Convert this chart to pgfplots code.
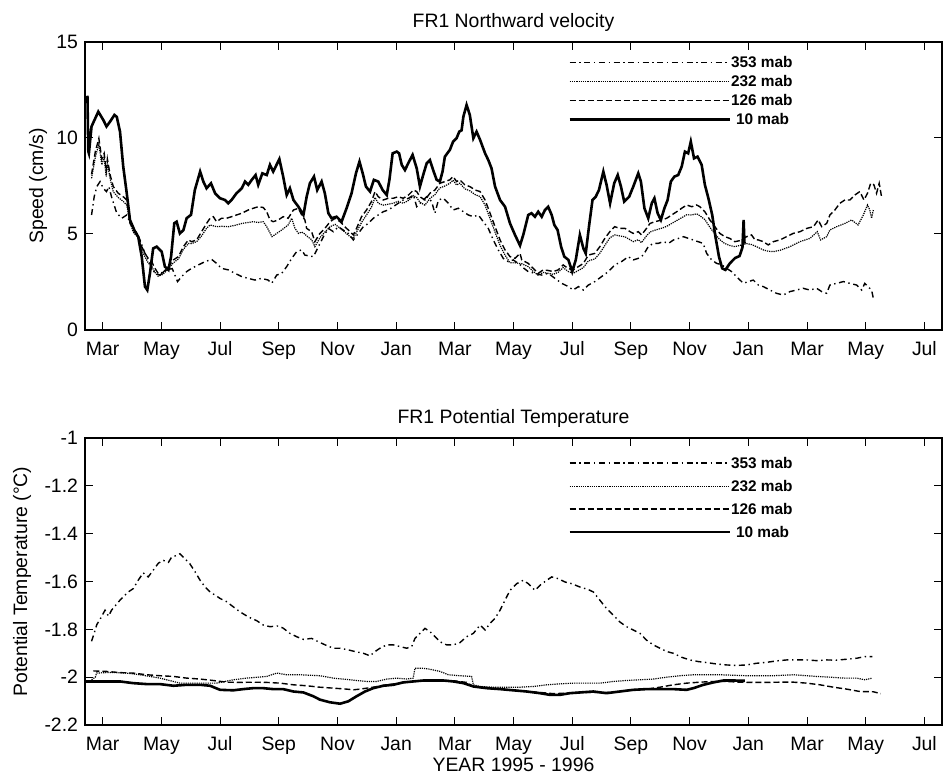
\documentclass[border=0pt]{standalone}
\usepackage{fontspec}
\setmainfont{Liberation Sans}
\usepackage{pgfplots}
\pgfplotsset{compat=1.18}
\newcommand{\fs}{\fontsize{9.7}{11}\selectfont}
\newcommand{\lfs}{\fontsize{7.7}{8}\selectfont\bfseries}
\pgfplotsset{
  myaxis/.style={
    scale only axis, width=428.5pt,
    xmin=-0.603, xmax=28.6,
    xtick={0,2,4,6,8,10,12,14,16,18,20,22,24,26,28},
    xticklabels={Mar,May,Jul,Sep,Nov,Jan,Mar,May,Jul,Sep,Nov,Jan,Mar,May,Jul},
    tick label style={font=\fs},
    xticklabel style={yshift=-2pt, text height=7pt, text depth=2pt},
    label style={font=\fs},
    title style={font=\fs, yshift=-4.5pt},
    axis line style={line width=0.8pt},
    major tick style={line width=0.5pt, black},
    major tick length=4pt,
    legend cell align=left,
    legend image code/.code={\draw[##1] (0pt,0pt) -- (80pt,0pt);},
  },
  s353/.style={black, line width=0.7pt, dash pattern=on 3pt off 1.8pt on 0.7pt off 1.8pt},
  s232/.style={black, line width=0.6pt, dash pattern=on 0.6pt off 0.5pt},
  s126/.style={black, line width=0.7pt, dash pattern=on 3pt off 1.5pt},
  s10/.style={black, line width=1.3pt},
}
\begin{document}
\begin{tikzpicture}
\path[use as bounding box] (0,0) rectangle (471.5pt,387pt);
% ---------------- top axis ----------------
\begin{axis}[myaxis,
  at={(42.5pt,222pt)}, anchor=south west, height=144pt,
  ymin=0, ymax=15, ytick={0,5,10,15}, yticklabels={0,5,10,15},
  title={FR1 Northward velocity},
  ylabel={Speed (cm/s)},
  ylabel style={at={(axis description cs:-0.0548,0.5)}, anchor=center},
  legend style={draw=none, fill=none, at={(axis description cs:0.5636,0.9497)}, anchor=north west,
    font=\lfs, row sep=4pt, inner sep=0pt, nodes={inner sep=0pt, text height=5.5pt, text depth=0pt}},
]
\addplot[s353] coordinates {
(-0.38,5.99)(-0.29,6.94)(-0.20,7.47)(-0.09,7.73)(0.02,7.38)(0.13,7.21)(0.21,7.47)(0.30,6.94)(0.48,6.08)(0.65,5.82)(0.82,5.99)(0.93,5.6)(1.10,5.21)(1.27,4.69)(1.44,3.99)(1.61,3.47)(1.78,2.95)(1.95,2.86)(2.18,3.13)(2.37,3.2)(2.55,2.52)(2.69,2.78)(2.86,3.04)(3.03,3.21)(3.26,3.39)(3.49,3.56)(3.71,3.68)(3.88,3.47)(4.05,3.21)(4.28,3.13)(4.51,2.95)(4.74,2.78)(4.96,2.69)(5.19,2.60)(5.41,2.69)(5.64,2.6)(5.76,2.43)(5.93,2.86)(6.10,2.95)(6.27,3.30)(6.44,3.73)(6.61,4.08)(6.78,4.17)(6.89,3.9)(7.18,3.82)(7.35,4.34)(7.52,4.86)(7.69,5.29)(7.86,5.12)(8.03,5.38)(8.20,5.2)(8.37,5.03)(8.54,4.69)(8.71,5.03)(8.88,5.38)(9.05,5.55)(9.22,5.82)(9.39,5.99)(9.56,6.16)(9.73,6.25)(9.90,6.42)(10.07,6.6)(10.24,6.77)(10.42,6.86)(10.59,7.03)(10.70,6.42)(10.87,6.69)(11.04,6.94)(11.21,6.69)(11.32,6.08)(11.44,6.77)(11.61,6.86)(11.78,6.6)(11.94,6.25)(12.12,6.34)(12.29,6.16)(12.46,5.99)(12.63,5.90)(12.80,5.99)(12.97,5.64)(13.14,5.29)(13.31,4.69)(13.48,4.17)(13.65,3.73)(13.82,3.56)(13.99,3.65)(14.22,3.4)(14.28,3.30)(14.50,3.04)(14.73,2.95)(14.96,2.86)(15.18,2.95)(15.41,2.69)(15.64,2.43)(15.87,2.26)(16.03,2.08)(16.21,2.26)(16.38,2.08)(16.55,2.34)(16.77,2.52)(17.00,2.78)(17.23,3.04)(17.45,3.39)(17.68,3.56)(17.91,3.82)(18.08,3.65)(18.25,3.73)(18.42,3.90)(18.59,4.34)(18.76,4.51)(18.93,4.51)(19.11,4.6)(19.28,4.51)(19.45,4.69)(19.62,4.77)(19.79,4.86)(19.96,4.77)(20.12,4.69)(20.29,4.6)(20.46,4.51)(20.58,3.99)(20.75,3.65)(20.92,3.47)(21.09,3.4)(21.26,3.21)(21.43,3.04)(21.60,2.78)(21.83,2.43)(22.00,2.52)(22.17,2.6)(22.34,2.34)(22.51,2.26)(22.74,2.08)(22.96,1.91)(23.19,1.82)(23.42,2.0)(23.64,2.08)(23.87,2.17)(24.10,2.08)(24.33,2.17)(24.50,2.0)(24.67,1.91)(24.78,2.34)(25.01,2.43)(25.24,2.52)(25.46,2.43)(25.69,2.34)(25.86,2.08)(25.97,2.43)(26.08,2.26)(26.20,2.08)(26.26,1.65)
};
\addlegendentry{353 mab}
\addplot[s232] coordinates {
(-0.38,7.9)(-0.25,9.0)(-0.13,9.7)(-0.03,8.6)(0.05,9.0)(0.12,8.0)(0.16,8.7)(0.25,7.9)(0.36,7.2)(0.53,6.9)(0.70,6.7)(0.82,6.5)(0.93,5.6)(1.04,5.1)(1.21,4.8)(1.33,4.2)(1.44,3.8)(1.55,3.5)(1.67,3.3)(1.78,3.0)(1.89,2.8)(2.06,2.9)(2.24,3.2)(2.41,3.5)(2.58,3.7)(2.75,4.2)(2.92,4.5)(3.03,4.5)(3.20,4.6)(3.37,4.9)(3.54,5.3)(3.66,5.47)(3.88,5.38)(4.05,5.4)(4.28,5.38)(4.51,5.45)(4.74,5.55)(4.96,5.6)(5.13,5.64)(5.30,5.6)(5.47,5.64)(5.59,5.38)(5.77,4.86)(5.93,5.03)(6.10,5.21)(6.32,5.47)(6.44,5.82)(6.55,5.3)(6.67,5.03)(6.78,5.1)(6.89,5.0)(6.95,4.9)(7.12,4.7)(7.23,4.34)(7.40,4.8)(7.57,5.1)(7.75,5.38)(7.92,5.5)(8.09,5.3)(8.25,5.1)(8.43,4.86)(8.54,4.77)(8.65,5.1)(8.82,5.6)(8.99,5.99)(9.16,6.4)(9.28,6.9)(9.39,6.6)(9.56,6.5)(9.73,6.55)(9.90,6.6)(10.07,6.7)(10.24,6.6)(10.42,6.75)(10.59,7.0)(10.70,6.9)(10.81,6.65)(10.98,6.5)(11.15,6.85)(11.32,7.05)(11.49,7.4)(11.66,7.5)(11.83,7.64)(11.94,7.8)(12.06,7.55)(12.17,7.65)(12.34,7.35)(12.51,7.25)(12.69,7.05)(12.86,6.95)(13.03,6.5)(13.20,5.8)(13.37,5.1)(13.54,4.4)(13.71,3.9)(13.88,3.5)(14.05,3.5)(14.28,3.45)(14.50,3.3)(14.67,3.05)(14.84,2.85)(15.01,3.0)(15.18,2.95)(15.35,2.9)(15.52,3.0)(15.69,3.25)(15.86,3.05)(16.03,2.95)(16.21,3.1)(16.38,3.25)(16.55,3.6)(16.77,3.7)(16.94,4.0)(17.11,4.4)(17.28,4.8)(17.45,4.95)(17.62,4.9)(17.80,4.85)(17.97,4.7)(18.08,4.6)(18.25,4.7)(18.36,4.55)(18.53,4.9)(18.65,5.1)(18.82,5.2)(19.05,5.3)(19.22,5.4)(19.39,5.55)(19.56,5.7)(19.73,5.85)(19.90,6.0)(20.07,5.99)(20.24,6.05)(20.35,5.95)(20.52,5.75)(20.69,5.35)(20.86,5.0)(21.03,4.7)(21.20,4.5)(21.37,4.4)(21.54,4.34)(21.70,4.4)(21.94,4.5)(22.11,4.45)(22.28,4.34)(22.51,4.17)(22.68,4.1)(22.85,4.08)(23.08,4.15)(23.42,4.34)(23.76,4.6)(24.10,4.77)(24.35,5.12)(24.46,4.69)(24.67,4.86)(24.78,5.21)(25.01,5.38)(25.29,5.55)(25.52,5.73)(25.74,5.47)(25.92,5.99)(26.06,6.51)(26.14,6.25)(26.20,5.82)(26.26,6.25)
};
\addlegendentry{232 mab}
\addplot[s126] coordinates {
(-0.38,8.1)(-0.25,9.3)(-0.13,9.98)(-0.03,8.9)(0.05,9.2)(0.12,8.3)(0.16,8.9)(0.25,8.1)(0.36,7.47)(0.53,7.12)(0.70,6.94)(0.82,6.77)(0.93,5.55)(1.04,5.29)(1.21,4.95)(1.33,4.34)(1.44,3.99)(1.55,3.73)(1.67,3.56)(1.78,3.21)(1.89,2.95)(2.06,3.0)(2.24,3.30)(2.41,3.65)(2.58,3.82)(2.75,4.34)(2.92,4.69)(3.03,4.6)(3.20,4.69)(3.37,5.12)(3.54,5.55)(3.66,5.82)(3.77,5.9)(3.88,5.64)(4.05,5.82)(4.22,5.82)(4.39,5.90)(4.56,5.99)(4.74,6.08)(4.96,6.25)(5.13,6.34)(5.30,6.42)(5.47,6.38)(5.59,6.16)(5.70,5.73)(5.81,5.64)(5.98,5.73)(6.15,5.90)(6.32,5.82)(6.50,6.25)(6.67,6.34)(6.78,5.99)(6.89,5.73)(6.95,5.29)(7.12,5.12)(7.23,4.6)(7.40,5.03)(7.57,5.29)(7.75,5.64)(7.92,5.82)(8.09,5.64)(8.25,5.38)(8.43,5.12)(8.54,4.95)(8.65,5.29)(8.82,5.90)(8.99,6.25)(9.16,6.69)(9.28,7.21)(9.39,6.94)(9.56,6.77)(9.73,6.86)(9.90,6.86)(10.07,6.94)(10.24,6.86)(10.42,7.03)(10.59,7.29)(10.70,7.21)(10.81,6.94)(10.98,6.77)(11.15,7.12)(11.32,7.29)(11.49,7.64)(11.66,7.73)(11.83,7.82)(11.94,7.99)(12.06,7.73)(12.17,7.82)(12.34,7.56)(12.51,7.47)(12.69,7.29)(12.86,7.21)(13.03,6.77)(13.20,6.08)(13.37,5.38)(13.54,4.69)(13.71,4.17)(13.88,3.82)(14.05,3.73)(14.22,3.99)(14.28,3.65)(14.50,3.47)(14.67,3.21)(14.84,2.95)(15.01,3.13)(15.18,3.1)(15.35,3.04)(15.52,3.13)(15.69,3.39)(15.86,3.2)(16.03,3.13)(16.21,3.30)(16.38,3.47)(16.55,3.90)(16.77,3.99)(16.94,4.34)(17.11,4.77)(17.28,5.12)(17.45,5.38)(17.62,5.29)(17.80,5.29)(17.97,5.12)(18.08,5.03)(18.25,5.12)(18.36,4.95)(18.53,5.29)(18.65,5.55)(18.82,5.64)(19.05,5.73)(19.22,5.82)(19.39,5.99)(19.56,6.16)(19.73,6.34)(19.90,6.51)(20.07,6.42)(20.24,6.51)(20.35,6.42)(20.52,6.16)(20.69,5.73)(20.86,5.38)(21.03,5.03)(21.20,4.86)(21.37,4.77)(21.54,4.6)(21.70,4.65)(21.94,4.86)(22.11,4.95)(22.23,4.69)(22.34,4.69)(22.51,4.6)(22.68,4.43)(22.85,4.6)(23.08,4.69)(23.30,4.86)(23.53,5.03)(23.76,5.12)(23.99,5.29)(24.22,5.38)(24.38,5.73)(24.50,5.38)(24.67,5.55)(24.78,5.99)(24.95,6.25)(25.12,6.6)(25.29,6.77)(25.46,6.77)(25.63,7.03)(25.80,7.21)(25.94,6.77)(26.06,7.12)(26.17,7.64)(26.28,7.56)(26.37,7.12)(26.46,7.64)(26.54,6.94)
};
\addlegendentry{126 mab}
\addplot[s10] coordinates {
(-0.52,12.2)(-0.49,9.3)(-0.47,9.2)(-0.38,10.6)(-0.15,11.37)(0.02,10.94)(0.13,10.6)(0.25,10.85)(0.40,11.2)(0.48,11.1)(0.59,10.33)(0.70,8.51)(0.82,7.12)(0.93,5.73)(1.10,5.12)(1.21,4.86)(1.33,3.82)(1.44,2.26)(1.52,2.08)(1.61,2.95)(1.72,4.25)(1.84,4.34)(2.01,4.08)(2.12,3.30)(2.24,3.13)(2.33,3.82)(2.44,5.56)(2.52,5.64)(2.63,5.03)(2.75,5.2)(2.86,5.82)(3.01,6.0)(3.14,7.29)(3.32,8.25)(3.43,7.73)(3.54,7.38)(3.69,7.64)(3.83,7.12)(4.00,6.86)(4.17,6.77)(4.28,6.60)(4.39,6.77)(4.56,7.12)(4.74,7.38)(4.85,7.73)(4.96,7.56)(5.08,7.82)(5.21,8.07)(5.30,7.56)(5.44,8.16)(5.59,8.07)(5.70,8.6)(5.81,8.25)(6.02,8.9)(6.15,7.99)(6.27,7.03)(6.38,7.38)(6.50,6.77)(6.67,6.42)(6.84,5.99)(6.95,6.94)(7.06,7.64)(7.20,7.99)(7.31,7.29)(7.46,7.73)(7.57,7.12)(7.69,6.08)(7.80,5.82)(7.97,5.9)(8.14,5.64)(8.31,6.34)(8.48,7.12)(8.63,8.16)(8.75,8.77)(8.86,8.16)(8.97,7.47)(9.11,7.21)(9.24,7.82)(9.39,7.73)(9.54,7.29)(9.68,7.03)(9.77,7.82)(9.88,9.2)(10.02,9.29)(10.10,9.2)(10.19,8.6)(10.30,8.33)(10.41,8.68)(10.56,9.12)(10.70,8.42)(10.81,7.47)(10.92,8.07)(11.04,8.68)(11.15,8.85)(11.26,8.33)(11.38,7.82)(11.49,7.73)(11.58,8.25)(11.66,9.03)(11.83,9.38)(11.94,9.81)(12.06,9.99)(12.15,10.33)(12.23,10.4)(12.29,11.11)(12.40,11.72)(12.51,11.2)(12.63,9.99)(12.74,10.33)(12.86,9.9)(13.03,9.2)(13.14,8.85)(13.25,8.42)(13.37,7.47)(13.54,6.77)(13.71,6.42)(13.88,5.55)(14.05,4.95)(14.22,4.4)(14.34,5.0)(14.50,5.99)(14.61,6.08)(14.73,5.9)(14.84,6.16)(14.96,5.9)(15.07,6.25)(15.18,6.42)(15.30,5.99)(15.39,5.47)(15.50,5.21)(15.62,4.34)(15.73,3.82)(15.87,3.65)(16.00,3.04)(16.12,3.65)(16.26,4.95)(16.38,4.25)(16.46,3.99)(16.57,5.38)(16.69,6.77)(16.80,6.94)(16.91,7.29)(17.06,8.25)(17.17,7.56)(17.29,6.6)(17.43,7.64)(17.55,8.07)(17.66,7.47)(17.77,6.69)(17.94,6.94)(18.08,7.47)(18.25,8.16)(18.34,7.73)(18.46,6.34)(18.59,5.82)(18.71,6.6)(18.80,6.86)(18.91,6.08)(19.02,5.73)(19.14,6.34)(19.25,6.77)(19.36,7.73)(19.48,7.99)(19.61,8.07)(19.73,8.51)(19.84,9.29)(19.95,9.2)(20.04,9.81)(20.15,8.94)(20.27,9.03)(20.41,8.6)(20.52,7.56)(20.64,6.86)(20.77,5.99)(20.88,4.86)(21.00,3.82)(21.11,3.21)(21.22,3.13)(21.37,3.47)(21.55,3.75)(21.70,3.85)(21.80,4.3)(21.84,5.73)(21.87,4.5)
};
\addlegendentry{\hspace{2.5pt}10 mab}
\end{axis}
% ---------------- bottom axis ----------------
\begin{axis}[myaxis,
  at={(42.5pt,24.5pt)}, anchor=south west, height=143.5pt,
  ymin=-2.2, ymax=-1, ytick={-2.2,-2.0,-1.8,-1.6,-1.4,-1.2,-1.0},
  yticklabels={-2.2,-2,-1.8,-1.6,-1.4,-1.2,-1},
  title={FR1 Potential Temperature},
  ylabel={Potential Temperature (°C)},
  ylabel style={at={(axis description cs:-0.0735,0.5)}, anchor=center},
  xlabel={YEAR 1995 - 1996},
  xlabel style={at={(axis description cs:0.5,0)}, anchor=center, yshift=-20pt},
  legend style={draw=none, fill=none, at={(axis description cs:0.5636,0.933)}, anchor=north west,
    font=\lfs, row sep=6pt, inner sep=0pt, nodes={inner sep=0pt, text height=5.5pt, text depth=0pt}},
]
\addplot[s353] coordinates {
(-0.38,-1.85)(-0.30,-1.82)(-0.20,-1.78)(-0.10,-1.76)(0.08,-1.72)(0.20,-1.745)(0.30,-1.72)(0.59,-1.678)(0.87,-1.644)(1.04,-1.63)(1.21,-1.595)(1.38,-1.564)(1.55,-1.581)(1.72,-1.553)(1.90,-1.523)(2.07,-1.512)(2.24,-1.52)(2.35,-1.498)(2.52,-1.491)(2.63,-1.484)(2.80,-1.505)(2.97,-1.526)(3.15,-1.560)(3.32,-1.595)(3.49,-1.623)(3.66,-1.644)(3.83,-1.657)(4.00,-1.671)(4.23,-1.685)(4.45,-1.706)(4.68,-1.727)(4.96,-1.748)(5.25,-1.764)(5.47,-1.782)(5.70,-1.789)(5.98,-1.786)(6.15,-1.795)(6.38,-1.817)(6.61,-1.831)(6.84,-1.842)(7.12,-1.838)(7.35,-1.852)(7.58,-1.865)(7.86,-1.879)(8.09,-1.879)(8.37,-1.886)(8.60,-1.893)(8.88,-1.900)(9.11,-1.911)(9.28,-1.893)(9.45,-1.879)(9.68,-1.865)(9.90,-1.865)(10.13,-1.872)(10.36,-1.879)(10.53,-1.872)(10.64,-1.838)(10.81,-1.817)(10.98,-1.796)(11.16,-1.810)(11.33,-1.831)(11.49,-1.852)(11.72,-1.865)(11.95,-1.865)(12.17,-1.856)(12.40,-1.831)(12.63,-1.817)(12.86,-1.782)(13.03,-1.803)(13.20,-1.775)(13.37,-1.754)(13.54,-1.720)(13.71,-1.678)(13.88,-1.637)(14.11,-1.609)(14.33,-1.595)(14.50,-1.609)(14.73,-1.637)(14.90,-1.616)(15.13,-1.595)(15.30,-1.581)(15.52,-1.588)(15.75,-1.602)(15.98,-1.609)(16.26,-1.623)(16.55,-1.634)(16.72,-1.644)(16.94,-1.678)(17.17,-1.713)(17.40,-1.741)(17.62,-1.769)(17.85,-1.789)(18.08,-1.803)(18.31,-1.817)(18.53,-1.845)(18.76,-1.865)(18.99,-1.879)(19.22,-1.893)(19.44,-1.900)(19.73,-1.917)(20.01,-1.928)(20.30,-1.935)(20.58,-1.939)(20.92,-1.945)(21.26,-1.949)(21.60,-1.951)(21.94,-1.949)(22.28,-1.942)(22.62,-1.938)(22.97,-1.932)(23.31,-1.928)(23.65,-1.928)(23.99,-1.928)(24.33,-1.931)(24.67,-1.928)(25.01,-1.929)(25.35,-1.925)(25.69,-1.921)(25.97,-1.914)(26.23,-1.914)
};
\addlegendentry{353 mab}
\addplot[s232] coordinates {
(-0.38,-2.011)(-0.25,-2.0)(-0.21,-1.983)(0.3,-1.98)(0.8,-1.983)(1.27,-1.99)(1.95,-2.004)(2.63,-2.025)(3.32,-2.025)(3.88,-2.025)(4.45,-2.011)(4.91,-2.004)(5.59,-1.997)(5.93,-1.983)(6.27,-1.990)(6.72,-1.990)(7.40,-1.994)(7.86,-2.004)(8.42,-2.011)(8.99,-2.018)(9.33,-2.018)(9.68,-2.008)(10.02,-2.004)(10.36,-2.008)(10.58,-2.004)(10.64,-1.963)(10.93,-1.963)(11.15,-1.967)(11.49,-1.976)(11.78,-1.990)(12.17,-1.994)(12.57,-1.997)(12.63,-2.032)(12.86,-2.039)(13.31,-2.042)(13.76,-2.042)(14.22,-2.042)(14.67,-2.039)(15.13,-2.032)(15.58,-2.028)(16.03,-2.025)(16.49,-2.025)(16.94,-2.025)(17.40,-2.018)(17.85,-2.014)(18.31,-2.011)(18.76,-2.008)(19.22,-2.0)(19.67,-1.994)(20.13,-1.990)(21.03,-1.990)(21.94,-1.994)(22.85,-1.994)(23.54,-1.990)(24.33,-1.997)(24.78,-2.0)(25.24,-2.004)(25.69,-2.004)(25.97,-2.011)(26.23,-2.004)
};
\addlegendentry{232 mab}
\addplot[s126] coordinates {
(-0.32,-1.974)(0.13,-1.976)(0.59,-1.981)(1.04,-1.983)(1.50,-1.990)(1.95,-1.994)(2.41,-1.997)(2.86,-2.004)(3.32,-2.008)(3.77,-2.014)(4.22,-2.021)(4.68,-2.022)(5.13,-2.021)(5.59,-2.022)(6.04,-2.025)(6.50,-2.032)(6.95,-2.036)(7.40,-2.042)(7.86,-2.046)(8.31,-2.050)(8.54,-2.053)(8.77,-2.050)(9.22,-2.042)(9.68,-2.032)(10.13,-2.025)(10.58,-2.018)(11.04,-2.014)(11.49,-2.014)(11.95,-2.015)(12.40,-2.022)(12.63,-2.039)(13.08,-2.046)(13.54,-2.050)(13.99,-2.055)(14.45,-2.060)(14.90,-2.064)(15.36,-2.069)(15.81,-2.067)(16.26,-2.064)(16.72,-2.064)(17.17,-2.064)(17.62,-2.060)(18.08,-2.053)(18.53,-2.050)(18.99,-2.042)(19.44,-2.032)(19.90,-2.025)(20.35,-2.021)(20.81,-2.018)(21.26,-2.018)(21.71,-2.021)(22.17,-2.022)(22.62,-2.022)(23.08,-2.021)(23.54,-2.021)(23.99,-2.025)(24.44,-2.032)(24.90,-2.042)(25.35,-2.050)(25.80,-2.060)(26.26,-2.061)(26.51,-2.069)
};
\addlegendentry{126 mab}
\addplot[s10] coordinates {
(-0.57,-2.018)(-0.09,-2.018)(0.59,-2.018)(1.04,-2.025)(1.50,-2.029)(1.95,-2.029)(2.41,-2.036)(2.86,-2.032)(3.32,-2.032)(3.66,-2.036)(4.00,-2.053)(4.45,-2.055)(4.79,-2.050)(5.13,-2.046)(5.47,-2.046)(5.81,-2.050)(6.15,-2.050)(6.50,-2.060)(6.84,-2.064)(7.18,-2.080)(7.40,-2.094)(7.74,-2.105)(8.09,-2.111)(8.37,-2.101)(8.65,-2.080)(8.94,-2.060)(9.22,-2.046)(9.56,-2.036)(9.90,-2.032)(10.24,-2.022)(10.58,-2.018)(10.93,-2.014)(11.27,-2.014)(11.61,-2.014)(11.95,-2.018)(12.29,-2.025)(12.63,-2.039)(13.08,-2.046)(13.54,-2.050)(13.99,-2.055)(14.45,-2.060)(14.90,-2.067)(15.24,-2.074)(15.58,-2.074)(15.92,-2.067)(16.26,-2.064)(16.72,-2.060)(17.17,-2.067)(17.62,-2.060)(18.08,-2.053)(18.53,-2.050)(18.99,-2.050)(19.44,-2.050)(19.90,-2.053)(20.13,-2.046)(20.47,-2.032)(20.81,-2.022)(21.15,-2.014)(21.49,-2.014)(21.88,-2.015)
};
\addlegendentry{\hspace{2.5pt}10 mab}
\end{axis}
\end{tikzpicture}
\end{document}
